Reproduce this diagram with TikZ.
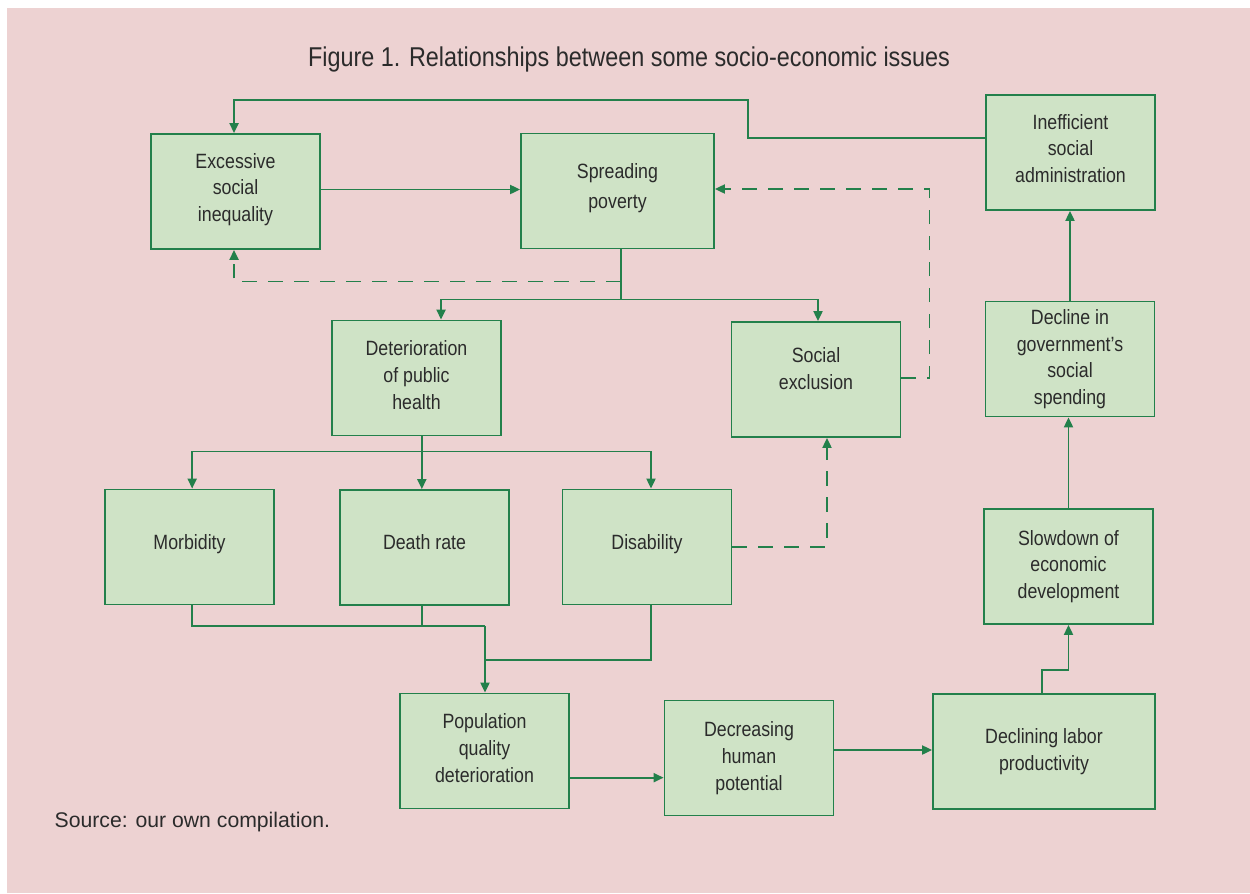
\documentclass[tikz,border=0pt]{standalone}
\usepackage{fontspec}
\setmainfont[FakeStretch=0.86]{Liberation Sans}
\newfontfamily\plainsans{Liberation Sans}
\usetikzlibrary{arrows.meta,calc}
\definecolor{bgpink}{RGB}{237,210,210}
\definecolor{boxfill}{RGB}{207,227,198}
\definecolor{gline}{RGB}{35,128,75}
\definecolor{txt}{RGB}{43,43,43}
\tikzset{
  box/.style={draw=gline, line width=1.4pt, fill=boxfill, text=txt, align=center,
    minimum width=126.75pt, minimum height=86.25pt, inner sep=0pt,
    font=\fontsize{15.5}{20}\selectfont},
  conn/.style={draw=gline, line width=1.4pt},
  arr/.style={conn, -{Triangle[length=7.5pt,width=6.8pt]}},
  darr/.style={arr, dash pattern=on 11pt off 8.5pt},
}
\begin{document}
\begin{tikzpicture}[x=0.75pt,y=-0.75pt]
\useasboundingbox (0,0) rectangle (1250,893);
\fill[bgpink] (7,8) rectangle (1250,893);
\node[text=txt, font=\fontsize{20.4}{24}\selectfont] (title) at (629,59) {Figure 1. Relationships between some socio-economic issues};
\node[text=txt, font=\plainsans\fontsize{15.9}{20}\selectfont, anchor=west] (src) at (50,822) {Source: our own compilation.};

\node[box] (excess) at (235.5,191.5) {Excessive\\social\\inequality\\[-14pt]};
\node[box, minimum width=144.75pt] (spread) at (617.5,191) {Spreading\\[3pt]poverty\\[-12.5pt]};
\node[box] (ineff) at (1070.5,152.5) {Inefficient\\social\\administration\\[-14pt]};
\node[box] (deter) at (416.5,378) {Deterioration\\of public\\health\\[-15.5pt]};
\node[box] (excl) at (816,379.5) {Social\\exclusion\\[-4pt]};
\node[box] (gov) at (1070,359) {Decline in\\government's\\social\\spending};
\node[box] (morb) at (189.5,547) {Morbidity\\[-12.5pt]};
\node[box] (death) at (424.5,547.5) {Death rate\\[-12.5pt]};
\node[box] (disab) at (647,547) {Disability\\[-12.5pt]};
\node[box] (slow) at (1068.5,566.5) {Slowdown of\\economic\\development};
\node[box] (pop) at (484.5,751) {Population\\quality\\deterioration\\[-15.5pt]};
\node[box] (dec) at (749,758) {Decreasing\\human\\potential\\[-17pt]};
\node[box, minimum width=166.5pt] (decl) at (1044,751.5) {Declining labor\\productivity};

% feedback from inefficient administration to inequality
\draw[arr] ([yshift=10.9pt]ineff.west) -| (748,100) -| ([xshift=-1.1pt]excess.north);
% inequality -> poverty
\draw[arr] ([yshift=1.5pt]excess.east) -- ([yshift=1.5pt]excess.east -| spread.west);
% poverty branch
\draw[conn] ([xshift=2.6pt]spread.south) -- ++(0,50) coordinate (j1);
\coordinate (j0) at ($([xshift=2.6pt]spread.south)+(0,32)$);
\draw[arr] (j1) -| ([xshift=18.4pt]deter.north);
\draw[arr] (j1) -| ([xshift=1.5pt]excl.north);
\draw[darr] (j0) -| ([xshift=-1.1pt]excess.south);
% social exclusion -> poverty (dashed)
\draw[darr] ([yshift=1pt]excl.east) -- ++(28,0) |- ([yshift=1.5pt]spread.east);
% health branch
\draw[conn] ([xshift=4pt]deter.south) -- ++(0,15) coordinate (j2);
\draw[arr] (j2) -| ([xshift=2pt]morb.north);
\draw[arr] (j2) -- (j2 |- death.north);
\draw[arr] (j2) -| ([xshift=3pt]disab.north);
% disability -> exclusion (dashed)
\draw[darr] (disab.east) -| ([xshift=8.25pt]excl.south);
% merge into population
\coordinate (j3) at (485,626);
\coordinate (j4) at (485,660);
\draw[conn] ([xshift=2pt]morb.south) |- (j3);
\draw[conn] ([xshift=-2pt]death.south) -- ([xshift=-2pt]death.south |- j3);
\draw[conn] ([xshift=3pt]disab.south) |- (j4);
\draw[arr] (j3) -- (j3 |- pop.north);
% lower chain
\draw[arr] ([yshift=-20pt]pop.east) -- ([yshift=-20pt]pop.east -| dec.west);
\draw[arr] ([yshift=6pt]dec.east) -- ([yshift=6pt]dec.east -| decl.west);
\draw[arr] ([xshift=-1.5pt]decl.north) -- ++(0,-23) -| (slow.south);
\draw[arr] (slow.north) -- (slow.north |- gov.south);
\draw[arr] (gov.north) -- (gov.north |- ineff.south);
\end{tikzpicture}
\end{document}
